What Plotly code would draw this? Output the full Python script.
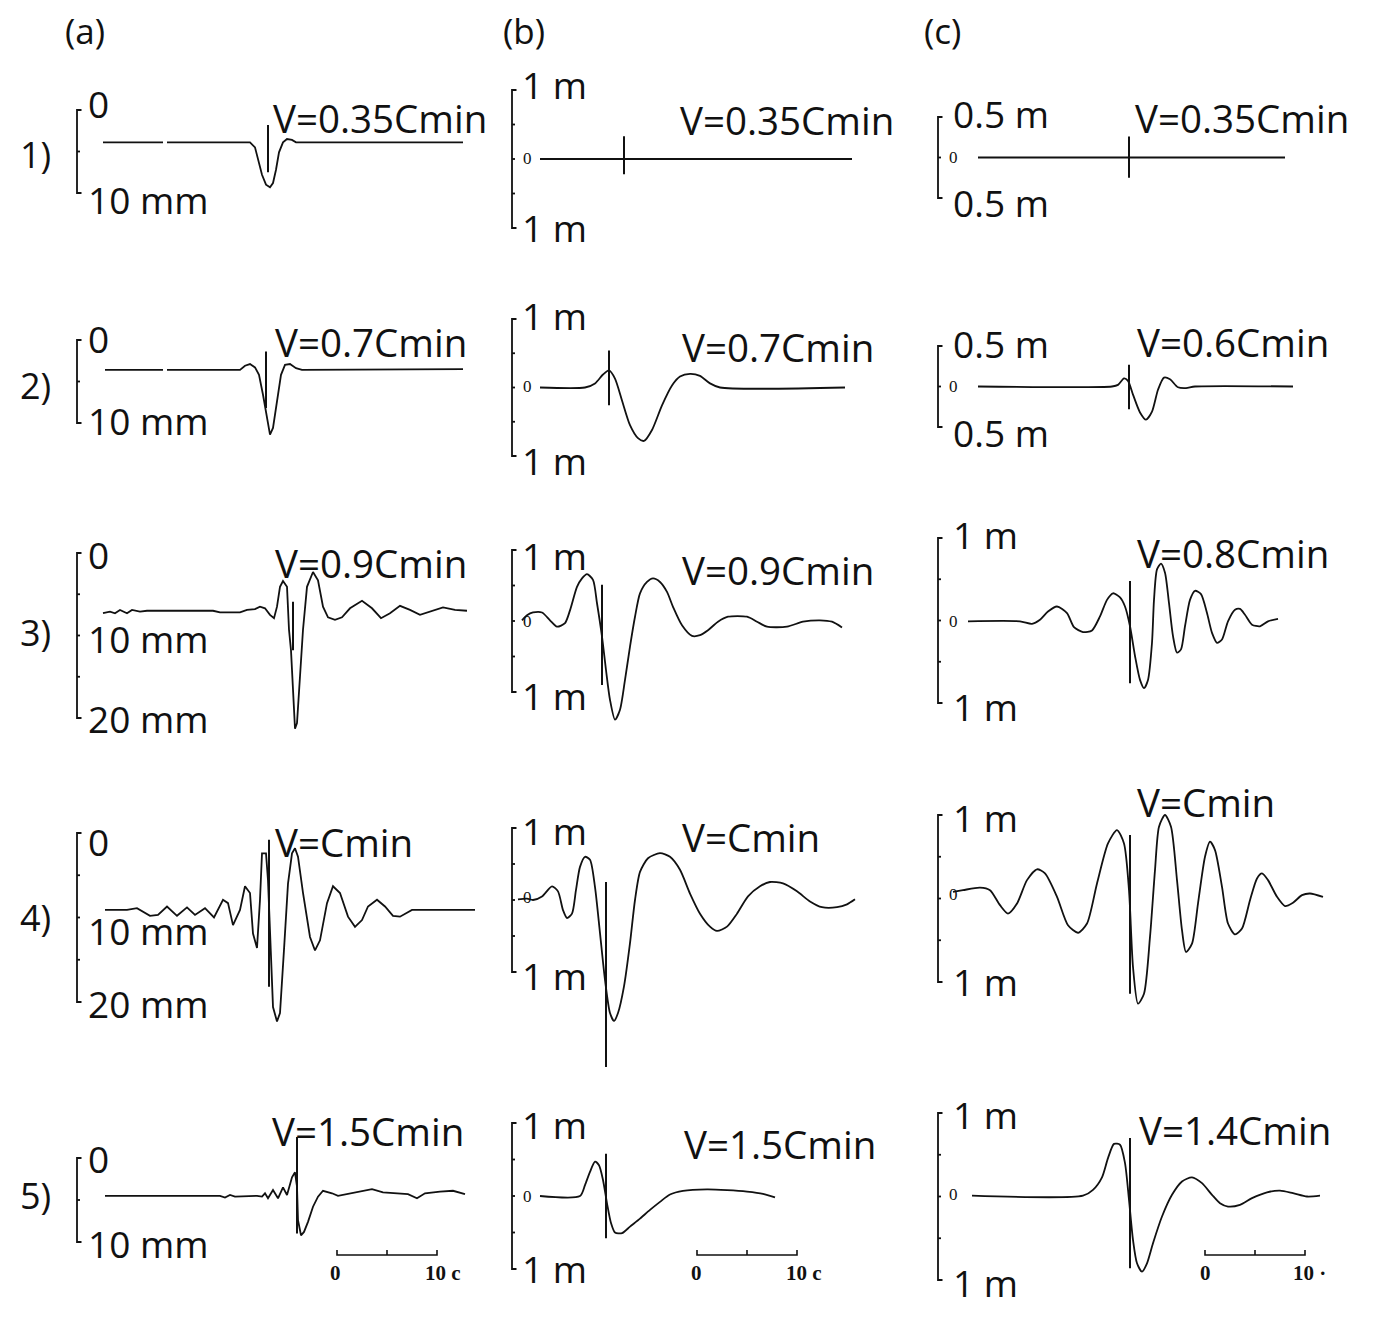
import plotly.graph_objects as go

W, H = 1388, 1338

# ---------------- DATA ----------------
# time in seconds (0 = origin of the 0..10 c time scale bar of each column)
# column (a): displacement in mm (0 at top, increasing downward)
# columns (b), (c): displacement in m

a1_t = [-23.4, -17.4, None, -17.0, -8.7, -8.2, -7.9, -7.5, -7.1, -6.7, -6.4, -6.1, -5.8, -5.4, -5.0, -4.5, -4.1, 12.6]
a1_u = [3.9, 3.9, None, 3.9, 3.9, 4.5, 6.0, 7.8, 9.0, 9.3, 8.8, 7.2, 5.1, 3.9, 3.5, 3.6, 3.9, 3.9]

a2_t = [-23.2, -17.4, None, -17.0, -9.7, -9.2, -8.7, -8.2, -7.8, -7.4, -7.0, -6.7, -6.4, -6.0, -5.6, -5.2, -4.7, -4.1, -3.5, 12.6]
a2_u = [3.6, 3.6, None, 3.6, 3.6, 3.1, 2.9, 3.3, 4.2, 6.6, 9.6, 11.4, 10.6, 7.2, 4.2, 3.0, 2.9, 3.4, 3.6, 3.5]

a3_t = [-23.4, -22.7, -22.2, -21.7, -21.0, -20.5, -19.7, -19.0, -12.4, -11.7, -9.7, -9.0, -8.2, -7.7, -7.2, -6.7,
        -6.3, -6.0, -5.7, -5.4, -5.0, -4.8, -4.6, -4.4, -4.2, -4.0, -3.7, -3.4, -3.0, -2.4, -1.9, -1.4, -0.9, -0.2,
        0.5, 1.3, 2.5, 3.5, 4.4, 5.3, 6.3, 7.3, 8.3, 9.3, 10.6, 11.8, 13.0]
a3_u = [7.3, 7.1, 7.3, 6.9, 7.3, 6.9, 7.1, 7.0, 7.0, 7.2, 7.2, 6.9, 6.8, 6.5, 6.7, 7.5,
        7.9, 6.5, 4.1, 3.4, 4.1, 9.3, 11.8, 16.6, 21.3, 20.6, 15.4, 9.3, 4.1, 2.3, 3.3, 6.5, 7.8, 8.1,
        7.8, 6.7, 5.8, 6.7, 7.9, 7.3, 6.4, 6.9, 7.5, 7.1, 6.6, 6.9, 7.0]

a4_t = [-23.2, -21.0, -20.0, -19.4, -18.7, -17.9, -17.0, -16.0, -15.0, -14.2, -13.2, -12.3, -11.4, -10.9, -10.4,
        -9.7, -9.2, -8.7, -8.4, -8.0, -7.7, -7.5, -7.1, -6.9, -6.6, -6.4, -6.0, -5.7, -5.3, -4.9, -4.5, -4.2,
        -3.9, -3.4, -2.7, -2.2, -1.7, -1.0, -0.4, 0.3, 1.1, 1.8, 2.5, 3.1, 4.0, 4.8, 5.6, 6.3, 7.5, 13.8]
a4_u = [9.1, 9.1, 8.9, 9.3, 9.8, 9.7, 8.7, 9.8, 8.8, 9.7, 8.9, 10.0, 7.9, 8.3, 10.9,
        9.1, 6.3, 7.1, 11.9, 13.6, 7.9, 2.4, 2.4, 5.6, 15.8, 20.6, 22.3, 21.3, 13.8, 6.0, 2.4, 1.8,
        2.8, 7.1, 12.3, 13.9, 12.7, 8.3, 6.3, 7.1, 9.9, 11.1, 10.3, 8.7, 7.9, 8.7, 9.8, 9.9, 9.1, 9.1]

a5_t = [-23.2, -14.7, -11.7, -11.2, -10.7, -10.2, -8.0, -7.5, -7.2, -6.9, -6.4, -5.9, -5.4, -5.0, -4.7, -4.5,
        -4.2, -4.0, -3.9, -3.6, -3.3, -2.9, -2.4, -1.9, -1.4, -0.5, 0.1, 1.3, 3.5, 4.6, 7.1, 8.0, 8.8, 10.3,
        11.6, 12.8]
a5_u = [4.5, 4.5, 4.5, 4.7, 4.4, 4.6, 4.5, 4.6, 4.2, 4.8, 3.8, 4.8, 3.5, 4.4, 3.2, 2.3,
        1.7, 3.4, 7.4, 9.2, 8.8, 7.6, 5.8, 4.6, 3.9, 4.2, 4.5, 4.2, 3.7, 4.1, 4.3, 4.8, 4.2, 4.0,
        3.9, 4.3]

b1_t = [-15.7, 15.5]
b1_u = [0.0, 0.0]

b2_t = [-15.7, -11.2, -10.2, -9.4, -8.8, -8.2, -7.5, -6.7, -5.9, -5.3, -4.5, -3.5, -2.5, -1.7, -0.7, 0.3, 1.3, 2.3, 14.8]
b2_u = [0.0, 0.0, 0.06, 0.19, 0.25, 0.13, -0.19, -0.55, -0.74, -0.78, -0.62, -0.26, 0.03, 0.16, 0.20, 0.17, 0.06, 0.0, 0.0]

b3_t = [-17.5, -17.0, -16.4, -15.5, -14.7, -14.0, -13.2, -12.7, -12.0, -11.5, -11.0, -10.4, -10.0, -9.5, -9.1,
        -8.7, -8.2, -7.7, -7.2, -6.7, -6.2, -5.7, -5.0, -4.4, -3.7, -3.0, -2.4, -1.5, -0.5, 0.3, 1.1, 2.1,
        3.1, 5.0, 6.0, 7.0, 9.0, 10.6, 12.3, 13.5, 14.5]
b3_u = [0.01, 0.08, 0.12, 0.12, 0.01, -0.08, -0.03, 0.15, 0.48, 0.60, 0.66, 0.58, 0.25, -0.22, -0.69,
        -1.11, -1.39, -1.25, -0.83, -0.36, 0.06, 0.39, 0.55, 0.60, 0.55, 0.41, 0.20, -0.06, -0.21, -0.20, -0.13, -0.01,
        0.06, 0.06, -0.01, -0.08, -0.08, -0.01, 0.01, -0.01, -0.09]

b4_t = [-17.9, -17.0, -16.4, -15.5, -14.5, -13.9, -13.4, -13.0, -12.5, -12.1, -11.7, -11.2, -10.7, -10.2, -9.7,
        -9.2, -8.7, -8.3, -7.9, -7.3, -6.7, -6.2, -5.7, -4.9, -3.7, -2.7, -1.7, -0.7, 0.3, 1.3, 2.0, 3.0,
        4.0, 5.1, 6.3, 7.3, 8.6, 10.0, 11.3, 12.5, 14.0, 15.0, 15.8]
b4_u = [0.01, 0.02, 0.0, 0.05, 0.19, 0.12, -0.14, -0.25, -0.19, 0.14, 0.46, 0.60, 0.56, 0.18, -0.46,
        -1.11, -1.57, -1.68, -1.57, -1.20, -0.60, 0.0, 0.39, 0.58, 0.65, 0.60, 0.42, 0.09, -0.19, -0.37, -0.43, -0.37,
        -0.19, 0.05, 0.19, 0.25, 0.23, 0.12, -0.02, -0.10, -0.10, -0.06, 0.01]

b5_t = [-15.7, -11.7, -11.2, -10.7, -10.2, -9.8, -9.4, -9.0, -8.6, -8.2, -7.5, -6.7, -5.7, -4.7, -3.7, -2.7,
        -1.4, 1.0, 3.0, 5.0, 6.6, 7.8]
b5_u = [0.0, 0.0, 0.15, 0.33, 0.47, 0.42, 0.22, -0.10, -0.37, -0.50, -0.51, -0.42, -0.31, -0.19, -0.08, 0.02,
        0.07, 0.09, 0.08, 0.06, 0.03, -0.02]

c1_t = [-22.7, 8.0]
c1_u = [0.0, 0.0]

c2_t = [-22.7, -9.3, -8.7, -8.1, -7.7, -7.2, -6.5, -5.9, -5.3, -4.7, -4.1, -3.5, -2.7, -1.9, -1.0, 8.8]
c2_u = [0.0, 0.0, 0.02, 0.10, 0.07, -0.10, -0.32, -0.41, -0.31, -0.04, 0.11, 0.09, -0.01, -0.02, 0.0, 0.0]

c3_t = [-23.7, -18.5, -17.3, -16.5, -15.7, -14.8, -13.8, -13.1, -12.2, -11.3, -10.5, -9.8, -9.2, -8.5, -8.0,
        -7.5, -7.0, -6.5, -6.1, -5.7, -5.3, -5.1, -4.8, -4.4, -4.0, -3.6, -3.2, -2.8, -2.4, -2.0, -1.5, -1.0,
        -0.4, 0.2, 0.7, 1.2, 1.7, 2.3, 3.0, 3.5, 4.0, 4.7, 5.5, 6.3, 7.3]
c3_u = [-0.01, -0.01, -0.04, 0.01, 0.11, 0.17, 0.09, -0.08, -0.14, -0.12, 0.05, 0.25, 0.33, 0.28, 0.17,
        -0.07, -0.43, -0.72, -0.82, -0.72, -0.27, 0.25, 0.62, 0.69, 0.58, 0.21, -0.19, -0.39, -0.35, -0.07, 0.25, 0.36,
        0.32, 0.09, -0.15, -0.27, -0.23, -0.01, 0.13, 0.14, 0.07, -0.05, -0.07, -0.01, 0.02]

c4_t = [-25.2, -24.2, -22.5, -21.5, -20.5, -19.7, -18.8, -17.8, -16.8, -16.0, -14.8, -13.7, -12.7, -11.8, -10.8,
        -9.7, -8.8, -8.1, -7.6, -7.2, -6.7, -6.1, -5.5, -5.0, -4.6, -4.0, -3.4, -2.8, -2.3, -1.9, -1.3, -0.7,
        0.0, 0.5, 1.0, 1.7, 2.3, 3.0, 3.7, 4.5, 5.2, 5.7, 6.3, 7.2, 8.0, 8.8, 9.7, 10.5, 11.8]
c4_u = [0.08, 0.10, 0.13, 0.10, -0.08, -0.18, -0.06, 0.22, 0.35, 0.30, 0.02, -0.32, -0.41, -0.30, 0.18,
        0.66, 0.82, 0.66, 0.10, -0.82, -1.26, -1.14, -0.46, 0.34, 0.86, 1.00, 0.86, 0.22, -0.38, -0.64, -0.54, -0.06,
        0.50, 0.68, 0.58, 0.14, -0.30, -0.43, -0.36, -0.02, 0.24, 0.30, 0.22, 0.02, -0.09, -0.05, 0.04, 0.06, 0.02]

c5_t = [-23.3, -12.2, -11.2, -10.3, -9.7, -9.1, -8.5, -8.0, -7.6, -7.2, -6.8, -6.3, -5.8, -5.2, -4.3, -3.3,
        -2.3, -1.3, -0.3, 0.7, 1.5, 2.3, 3.5, 4.7, 6.2, 7.5, 8.8, 10.2, 11.5]
c5_u = [0.01, 0.01, 0.08, 0.23, 0.46, 0.63, 0.62, 0.40, -0.04, -0.52, -0.80, -0.90, -0.80, -0.56, -0.24, 0.02,
        0.18, 0.23, 0.16, 0.02, -0.08, -0.12, -0.10, -0.02, 0.05, 0.07, 0.04, 0.0, 0.01]

# vertical marker (passage time of the load): time and vertical extent
marker_t = {'a1': -6.9, 'a2': -7.1, 'a3': -4.4, 'a4': -6.8, 'a5': -4.0,
            'b1': -7.3, 'b2': -8.8, 'b3': -9.5, 'b4': -9.1, 'b5': -9.1,
            'c1': -7.6, 'c2': -7.6, 'c3': -7.5, 'c4': -7.5, 'c5': -7.5}
marker_u = {'a1': [1.8, 7.5], 'a2': [1.4, 8.2], 'a3': [5.9, 11.8], 'a4': [0.8, 18.2], 'a5': [-2.5, 9.0],
            'b1': [0.33, -0.22], 'b2': [0.54, -0.26], 'b3': [0.51, -0.90], 'b4': [0.25, -2.32], 'b5': [0.58, -0.58],
            'c1': [0.26, -0.25], 'c2': [0.27, -0.28], 'c3': [0.48, -0.76], 'c4': [0.76, -1.14], 'c5': [0.70, -0.86]}

# amplitude scale brackets: (end value, end value, intermediate ticks)
scale_a = {'a1': (0, 10, [5]), 'a2': (0, 10, [5]), 'a3': (0, 20, [5, 10, 15]), 'a4': (0, 20, [5, 10, 15]), 'a5': (0, 10, [5])}
scale_bc = {'b1': (1, -1, [0.5, 0, -0.5]), 'b2': (1, -1, [0.5, 0, -0.5]), 'b3': (1, -1, [0.5, 0, -0.5]),
            'b4': (1, -1, [0.5, 0, -0.5]), 'b5': (1, -1, [0.5, 0, -0.5]),
            'c1': (0.5, -0.5, [0]), 'c2': (0.5, -0.5, [0]), 'c3': (1, -1, [0.5, 0, -0.5]),
            'c4': (1, -1, [0.5, 0, -0.5]), 'c5': (1, -1, [0.5, 0, -0.5])}
scales = {**scale_a, **scale_bc}

speed_labels = {'a1': 'V=0.35Cmin', 'a2': 'V=0.7Cmin', 'a3': 'V=0.9Cmin', 'a4': 'V=Cmin', 'a5': 'V=1.5Cmin',
                'b1': 'V=0.35Cmin', 'b2': 'V=0.7Cmin', 'b3': 'V=0.9Cmin', 'b4': 'V=Cmin', 'b5': 'V=1.5Cmin',
                'c1': 'V=0.35Cmin', 'c2': 'V=0.6Cmin', 'c3': 'V=0.8Cmin', 'c4': 'V=Cmin', 'c5': 'V=1.4Cmin'}

time_bar = [0, 5, 10]   # time scale bar, seconds

series = {'a1': (a1_t, a1_u), 'a2': (a2_t, a2_u), 'a3': (a3_t, a3_u), 'a4': (a4_t, a4_u), 'a5': (a5_t, a5_u),
          'b1': (b1_t, b1_u), 'b2': (b2_t, b2_u), 'b3': (b3_t, b3_u), 'b4': (b4_t, b4_u), 'b5': (b5_t, b5_u),
          'c1': (c1_t, c1_u), 'c2': (c2_t, c2_u), 'c3': (c3_t, c3_u), 'c4': (c4_t, c4_u), 'c5': (c5_t, c5_u)}

# ---------------- LAYOUT GEOMETRY (page pixels) ----------------
PAGE_OFF = 8                     # default body margin of the html page
FW, FH = W - 2 * PAGE_OFF, H - 2 * PAGE_OFF
COL_X = {'a': (55, 497), 'b': (500, 910), 'c': (922, 1378)}
T0_PX = {'a': 337, 'b': 697, 'c': 1205}      # pixel of t = 0
PX_PER_S = 10.0
BRACKET_PX = {'a': 77, 'b': 512, 'c': 938}
ROW_Y = {'1': (58, 250), '2': (285, 475), '3': (515, 765), '4': (785, 1085), '5': (1088, 1300)}
CAL = {  # (pixel, value, pixel, value) vertical calibration per panel
    'a1': (110, 0, 193, 10), 'a2': (340, 0, 423, 10), 'a3': (553, 0, 718, 20), 'a4': (833, 0, 1002, 20),
    'a5': (1158, 0, 1242, 10),
    'b1': (90, 1, 228, -1), 'b2': (319, 1, 456, -1), 'b3': (550, 1, 692, -1), 'b4': (828, 1, 972, -1),
    'b5': (1123, 1, 1269, -1),
    'c1': (117, 0.5, 198, -0.5), 'c2': (346, 0.5, 427, -0.5), 'c3': (538, 1, 703, -1), 'c4': (815, 1, 982, -1),
    'c5': (1113, 1, 1280, -1),
}
TIMEBAR_PX_Y = 1255

INK = '#111111'
FONT = 'Open Sans, Noto Sans, DejaVu Sans'
SERIF = 'Liberation Serif, DejaVu Serif'


def fx(x):
    return (x - PAGE_OFF) / FW


def fy(y):
    return 1 - (y - PAGE_OFF) / FH


def px_to_val(key, p):
    p1, v1, p2, v2 = CAL[key]
    return v1 + (p - p1) * (v2 - v1) / (p2 - p1)


def px_to_t(col, x):
    return (x - T0_PX[col]) / PX_PER_S


fig = go.Figure()
layout = {}
keys = ['a1', 'a2', 'a3', 'a4', 'a5', 'b1', 'b2', 'b3', 'b4', 'b5', 'c1', 'c2', 'c3', 'c4', 'c5']

for i, key in enumerate(keys):
    n = i + 1
    col, row = key[0], key[1]
    xa = 'x' if n == 1 else f'x{n}'
    ya = 'y' if n == 1 else f'y{n}'
    X0, X1 = COL_X[col]
    Y0, Y1 = ROW_Y[row]
    layout['xaxis' if n == 1 else f'xaxis{n}'] = dict(
        domain=[fx(X0), fx(X1)], range=[px_to_t(col, X0), px_to_t(col, X1)],
        visible=False, anchor=ya, fixedrange=True)
    layout['yaxis' if n == 1 else f'yaxis{n}'] = dict(
        domain=[fy(Y1), fy(Y0)], range=[px_to_val(key, Y1), px_to_val(key, Y0)],
        visible=False, anchor=xa, fixedrange=True)

    t, u = series[key]
    smooth = col != 'a'
    fig.add_trace(go.Scatter(x=t, y=u, mode='lines', xaxis=xa, yaxis=ya,
                             line=dict(color=INK, width=1.8,
                                       shape='spline' if smooth else 'linear', smoothing=0.7),
                             connectgaps=False, hoverinfo='skip', showlegend=False))
    # load-passage marker
    fig.add_trace(go.Scatter(x=[marker_t[key]] * 2, y=marker_u[key], mode='lines', xaxis=xa, yaxis=ya,
                             line=dict(color=INK, width=2), hoverinfo='skip', showlegend=False))
    # amplitude bracket
    top, bot, ticks = scales[key]
    bx = px_to_t(col, BRACKET_PX[col])
    hook = 0.45
    tick = 0.3
    bxs = [bx + hook, bx, bx, bx + hook]
    bys = [top, top, bot, bot]
    for tv in ticks:
        bxs += [None, bx, bx + tick]
        bys += [None, tv, tv]
    fig.add_trace(go.Scatter(x=bxs, y=bys, mode='lines', xaxis=xa, yaxis=ya,
                             line=dict(color=INK, width=1.8), connectgaps=False,
                             hoverinfo='skip', showlegend=False))
    # time scale bar (bottom row)
    if row == '5':
        yb = px_to_val(key, TIMEBAR_PX_Y)
        yt = px_to_val(key, TIMEBAR_PX_Y - 5)
        fig.add_trace(go.Scatter(
            x=[time_bar[0], time_bar[0], time_bar[2], time_bar[2], None, time_bar[1], time_bar[1]],
            y=[yt, yb, yb, yt, None, yb, yt], mode='lines', xaxis=xa, yaxis=ya,
            line=dict(color=INK, width=1.6), connectgaps=False,
            hoverinfo='skip', showlegend=False))

# ---------------- TEXT ----------------
ann = []


def txt(s, x, y, size=37, anchor='left', family=FONT):
    ann.append(dict(text=s, x=fx(x), y=fy(y), xref='paper', yref='paper', showarrow=False,
                    xanchor=anchor, yanchor='middle', font=dict(family=family, size=size, color=INK)))


txt('(a)', 85, 31, 35, 'center')
txt('(b)', 524, 31, 35, 'center')
txt('(c)', 942, 31, 35, 'center')
for lab, y in [('1)', 155), ('2)', 385), ('3)', 633), ('4)', 918), ('5)', 1195)]:
    txt(lab, 35, y, 36, 'center')

LABEL_POS = {  # speed label: left x, centre y
    'a1': (271, 118), 'a2': (273, 342), 'a3': (273, 563), 'a4': (273, 842), 'a5': (270, 1131),
    'b1': (678, 120), 'b2': (680, 347), 'b3': (680, 570), 'b4': (680, 837), 'b5': (682, 1144),
    'c1': (1133, 118), 'c2': (1135, 342), 'c3': (1135, 553), 'c4': (1135, 802), 'c5': (1137, 1130)}
for k, (x, y) in LABEL_POS.items():
    txt(speed_labels[k], x, y, 38.5)

# amplitude labels
amp_a = [('a1', '0', 103), ('a1', '10 mm', 200), ('a2', '0', 338), ('a2', '10 mm', 421),
         ('a3', '0', 554), ('a3', '10 mm', 638), ('a3', '20 mm', 718),
         ('a4', '0', 842), ('a4', '10 mm', 930), ('a4', '20 mm', 1003),
         ('a5', '0', 1158), ('a5', '10 mm', 1243)]
for k, s, y in amp_a:
    txt(s, 86, y)

amp_bc = [('b', '1 m', 84), ('b', '1 m', 228), ('b', '1 m', 315), ('b', '1 m', 460), ('b', '1 m', 555),
          ('b', '1 m', 695), ('b', '1 m', 830), ('b', '1 m', 975), ('b', '1 m', 1124), ('b', '1 m', 1268),
          ('c', '0.5 m', 113), ('c', '0.5 m', 202), ('c', '0.5 m', 343), ('c', '0.5 m', 432),
          ('c', '1 m', 534), ('c', '1 m', 706), ('c', '1 m', 817), ('c', '1 m', 981),
          ('c', '1 m', 1114), ('c', '1 m', 1282)]
for c, s, y in amp_bc:
    txt(s, 520 if c == 'b' else 951, y)

for y in [158, 386, 621, 897, 1196]:
    txt('0', 527, y, 17, 'center', SERIF)
for y in [157, 386, 621, 894, 1194]:
    txt('0', 954, y, 17, 'center', SERIF)

# time bar labels
TB = 21
txt('<b>0</b>', 335, 1273, TB, 'center', SERIF)
txt('<b>10 c</b>', 443, 1273, TB, 'center', SERIF)
txt('<b>0</b>', 696, 1273, TB, 'center', SERIF)
txt('<b>10 c</b>', 804, 1273, TB, 'center', SERIF)
txt('<b>0</b>', 1205, 1273, TB, 'center', SERIF)
txt('<b>10 ·</b>', 1291, 1273, TB, 'left', SERIF)

layout.update(dict(width=FW, height=FH, margin=dict(l=0, r=0, t=0, b=0), autosize=False,
                   paper_bgcolor='white', plot_bgcolor='rgba(0,0,0,0)', annotations=ann,
                   showlegend=False))
fig.update_layout(**layout)
fig.write_html("out.html")
